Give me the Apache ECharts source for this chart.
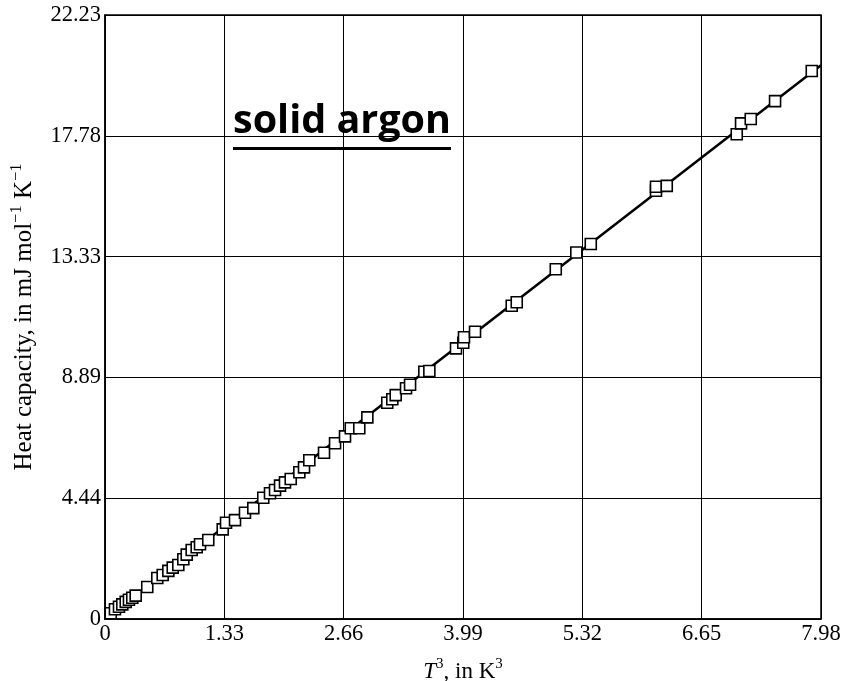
<!DOCTYPE html>
<html>
<head>
<meta charset="utf-8">
<script src="https://cdn.jsdelivr.net/npm/echarts@6/dist/echarts.min.js"></script>
<style>html,body{margin:0;padding:0;background:#fff}#c{width:844px;height:681px}</style>
</head>
<body>
<div id="c"></div>
<script>
const xTickLabels = ['0', '1.33', '2.66', '3.99', '5.32', '6.65', '7.98'];
const yTickLabels = ['0', '4.44', '8.89', '13.33', '17.78', '22.23'];

const tCubed = [0.064, 0.111, 0.156, 0.193, 0.231, 0.267, 0.304, 0.342, 0.471, 0.583,
  0.643, 0.706, 0.755, 0.817, 0.873, 0.911, 0.966, 1.022, 1.059, 1.151,
  1.312, 1.349, 1.449, 1.560, 1.653, 1.764, 1.839, 1.895, 1.951, 2.006,
  2.070, 2.166, 2.218, 2.277, 2.441, 2.564, 2.675, 2.739, 2.834, 2.924,
  3.146, 3.202, 3.240, 3.355, 3.400, 3.559, 3.615, 3.912, 3.993, 4.001,
  4.124, 4.533, 4.589, 5.024, 5.253, 5.414, 6.141, 6.141, 6.261, 7.041,
  7.089, 7.197, 7.468, 7.877];
const heatCap = [0.21, 0.36, 0.45, 0.54, 0.63, 0.71, 0.78, 0.86, 1.18, 1.51,
  1.62, 1.77, 1.89, 1.99, 2.20, 2.37, 2.54, 2.64, 2.75, 2.91,
  3.30, 3.54, 3.64, 3.91, 4.08, 4.46, 4.63, 4.75, 4.91, 5.03,
  5.15, 5.40, 5.58, 5.84, 6.12, 6.47, 6.72, 7.02, 7.02, 7.42,
  7.96, 8.09, 8.24, 8.49, 8.62, 9.10, 9.13, 9.96, 10.17, 10.37,
  10.57, 11.53, 11.66, 12.87, 13.49, 13.80, 15.76, 15.91, 15.94, 17.84,
  18.24, 18.40, 19.06, 20.17];
const fitX = [0, 7.98];
const fitY = [0, 20.38];

const serif = 'Liberation Serif';
const chart = echarts.init(document.getElementById('c'), null, {renderer: 'canvas'});
chart.setOption({
  animation: false,
  backgroundColor: '#fff',
  grid: {left: 105, right: 23, top: 15, bottom: 62, containLabel: false, outerBoundsMode: 'none',
    show: true, borderColor: '#000', borderWidth: 1.5, backgroundColor: 'transparent'},
  xAxis: {
    type: 'value', min: 0, max: 7.98, interval: 1.33,
    axisLine: {show: true, lineStyle: {color: '#000', width: 1.5}},
    axisTick: {show: false},
    splitLine: {show: true, lineStyle: {color: '#000', width: 1}},
    axisLabel: {color: '#000', fontFamily: serif, fontSize: 22.5, margin: 4,
      formatter: (v, i) => xTickLabels[i]},
    name: '{i|T}{sup|3}, in K{sup|3}',
    nameLocation: 'middle', nameGap: 38,
    nameTextStyle: {color: '#000', fontFamily: serif, fontSize: 23, lineHeight: 30,
      rich: {
        i: {fontFamily: serif, fontStyle: 'italic', fontSize: 23, color: '#000', lineHeight: 30},
        sup: {fontFamily: serif, fontSize: 15, color: '#000', lineHeight: 15, verticalAlign: 'top'}
      }}
  },
  yAxis: {
    type: 'value', min: 0, max: 22.23, interval: 4.446,
    axisLine: {show: true, lineStyle: {color: '#000', width: 1.5}},
    axisTick: {show: false},
    splitLine: {show: true, lineStyle: {color: '#000', width: 1}},
    axisLabel: {color: '#000', fontFamily: serif, fontSize: 22.5, margin: 4,
      formatter: (v, i) => yTickLabels[i]},
    name: 'Heat capacity, in mJ mol{sup|−1} K{sup|−1}',
    nameLocation: 'middle', nameGap: 57, nameRotate: 90,
    nameTextStyle: {color: '#000', fontFamily: serif, fontSize: 25, lineHeight: 31,
      rich: {
        sup: {fontFamily: serif, fontSize: 16.5, color: '#000', lineHeight: 16, verticalAlign: 'top'}
      }}
  },
  series: [
    {
      type: 'line', data: fitX.map((x, i) => [x, fitY[i]]),
      showSymbol: false, lineStyle: {color: '#000', width: 2.5}, z: 2
    },
    {
      type: 'scatter', data: tCubed.map((x, i) => [x, heatCap[i]]),
      symbol: 'rect', symbolSize: 11,
      itemStyle: {color: '#fff', borderColor: '#000', borderWidth: 1.6, opacity: 1}, z: 3
    }
  ],
  graphic: [
    {type: 'text', left: 233, top: 102, z: 10,
      style: {text: 'solid argon', fontFamily: 'Open Sans', fontWeight: 'bold', fontSize: 39.5, fill: '#000'}},
    {type: 'line', z: 10, shape: {x1: 233, y1: 148.5, x2: 451, y2: 148.5},
      style: {stroke: '#000', lineWidth: 3}}
  ]
});
</script>
</body>
</html>
